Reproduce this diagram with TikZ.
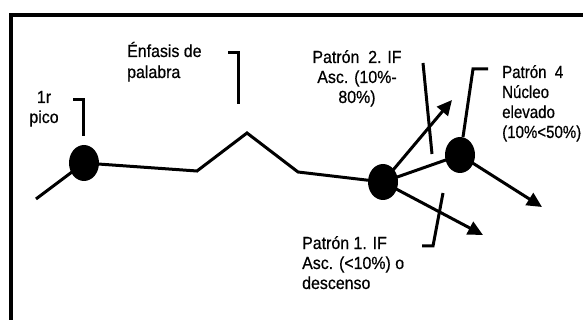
\documentclass[tikz,border=0pt]{standalone}
\usepackage{fontspec}
\setmainfont{Liberation Sans}[FakeStretch=0.91,FakeBold=0.6]
\newfontfamily\narrowfont{Liberation Sans}[FakeStretch=0.86,FakeBold=0.6]
\usetikzlibrary{shapes.geometric,arrows.meta}
\begin{document}
\begin{tikzpicture}[x=1pt,y=-1pt,
  dot/.style={ellipse,fill=black,draw=none,inner sep=0pt,minimum width=30pt,minimum height=36pt},
  wire/.style={line width=3pt,line join=miter},
  arr/.style={wire,-{Triangle[length=15pt,width=14pt]}},
  lbl/.style={inner sep=0pt,font=\fontsize{17.5}{20}\selectfont}]
\useasboundingbox (0,0) rectangle (583,320);
\clip (0,0) rectangle (583,320);
\fill[white] (0,0) rectangle (583,320);
% frame
\draw[line width=4pt] (10.5,340) -- (10.5,15) -- (600,15) -- (600,340) -- cycle;
% nodes
\coordinate (s) at (36,199);
\node[dot] (c1) at (84,163) {};
\coordinate (p1) at (197,171);
\coordinate (p2) at (247,133);
\coordinate (p3) at (298,172);
\node[dot] (c2) at (383,182) {};
\node[dot] (c3) at (460,155) {};
\coordinate (a1) at (452,100);
\coordinate (a2) at (483,235);
\coordinate (a3) at (542,207);
% main contour
\draw[wire] (s) -- (c1.center) -- (p1) -- (p2) -- (p3) -- (c2.center) -- (c3.center);
\draw[arr] (c2.center) -- (a1);
\draw[arr] (c2.center) -- (a2);
\draw[arr] (c3.center) -- (a3);
% pointer brackets
\coordinate (b1a) at (73,100); \coordinate (b1b) at (83,100); \coordinate (b1c) at (83,136);
\draw[wire] (b1a) -- (b1b) -- (b1c);
\coordinate (b2a) at (228,53); \coordinate (b2b) at (238,53); \coordinate (b2c) at (238,104);
\draw[wire] (b2a) -- (b2b) -- (b2c);
\coordinate (b3a) at (423,63); \coordinate (b3b) at (432,154);
\draw[wire] (b3a) -- (b3b);
\coordinate (b4a) at (488,69); \coordinate (b4b) at (473,69); \coordinate (b4c) at (463,137);
\draw[wire] (b4a) -- (b4b) -- (b4c);
\coordinate (b5a) at (443,193); \coordinate (b5b) at (433,246); \coordinate (b5c) at (422,246);
\draw[wire] (b5a) -- (b5b) -- (b5c);
% labels (base anchor = baseline of the last line)
\node[lbl,align=center,anchor=base] (t1) at (44,123) {1r\\pico};
\node[lbl,align=left,anchor=base west,font=\fontsize{17.5}{21}\selectfont] (t2) at (127,78) {Énfasis de\\palabra};
\node[lbl,align=center,anchor=base] (t3) at (357,103) {Patrón\ \ 2. IF\\Asc. (10\%-\\80\%)};
\node[lbl,align=left,anchor=base west,font=\narrowfont\fontsize{17.5}{20}\selectfont] (t4) at (502,138) {Patrón\ \ 4\\Núcleo\\elevado\\(10\%<50\%)};
\node[lbl,align=left,anchor=base west] (t5) at (302,289) {Patrón 1. IF\\Asc. (<10\%) o\\descenso};
\end{tikzpicture}
\end{document}
